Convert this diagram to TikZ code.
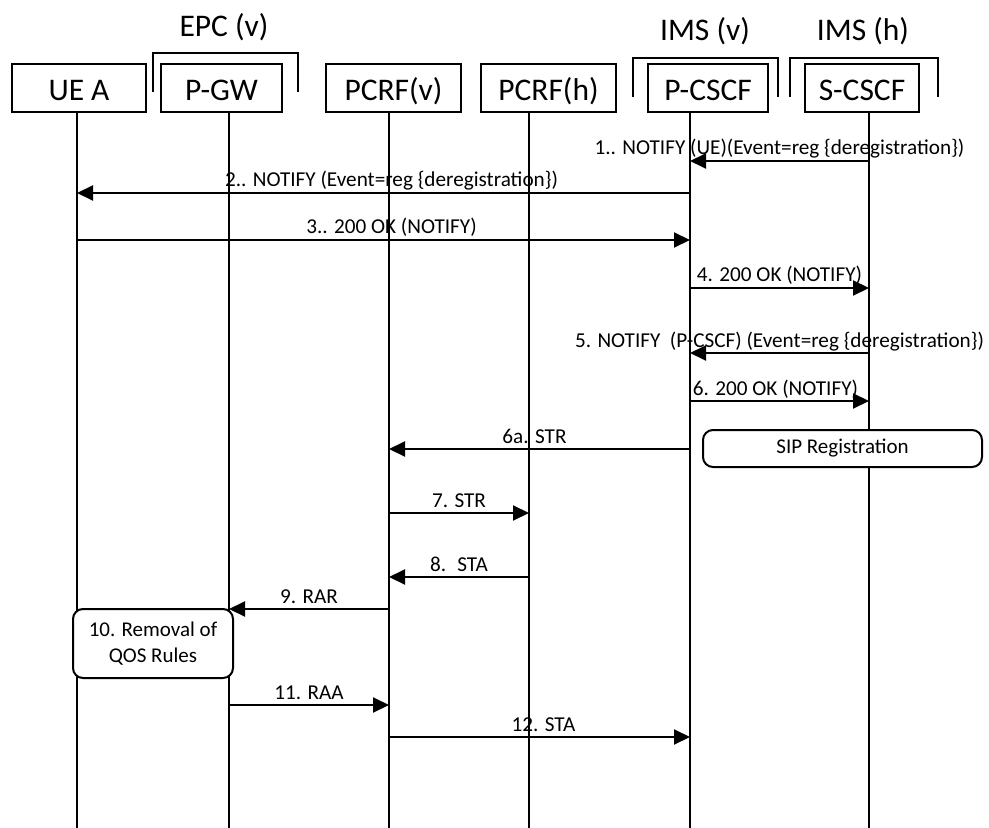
\documentclass[tikz,border=0pt]{standalone}
\usepackage{fontspec}
\setmainfont{Carlito}
\usetikzlibrary{arrows.meta}
\definecolor{ink}{HTML}{000000}

\begin{document}
\begin{tikzpicture}[x=.5pt,y=-.5pt,text=ink,line width=1pt,>={Triangle[length=8pt,width=7.5pt]},
  box/.style={draw=ink,minimum height=24pt,inner sep=0pt,text height=13pt,text depth=0pt,font=\fontsize{15.75}{18}\selectfont},
  hdr/.style={anchor=base,font=\fontsize{15.75}{18}\selectfont},
  msg/.style={draw=ink,->},
  lbl/.style={anchor=base,yshift=3pt,inner sep=0pt,font=\fontsize{10.6}{12}\selectfont},
  note/.style={draw=ink,fill=white,rounded corners=5pt,align=center,inner sep=0pt,font=\fontsize{10.5}{13}\selectfont}]
  \useasboundingbox (0,0) rectangle (989,828);
  % groups
  \node[hdr] (epc) at (224,37) {EPC (v)};
  \node[hdr] (imsv) at (705,41) {IMS (v)};
  \node[hdr] (imsh) at (863,41) {IMS (h)};
  \draw (153,92) |- (298,53) -- (298,92);
  \draw (633,97) |- (778,58) -- (778,97);
  \draw (790,97) |- (938,58) -- (938,97);
  % entities
  \node[box,minimum width=67pt] (ue) at (79,88) {UE A};
  \node[box,minimum width=60.5pt] (pgw) at (221.5,88) {P-GW};
  \node[box,minimum width=67.5pt] (pcrfv) at (393.5,88) {PCRF(v)};
  \node[box,minimum width=67.5pt] (pcrfh) at (548.5,88) {PCRF(h)};
  \node[box,minimum width=60pt] (pcscf) at (708,88) {P-CSCF};
  \node[box,minimum width=57pt] (scscf) at (862,88) {S-CSCF};
  % lifelines
  \coordinate (ueL) at (77,828); \coordinate (pgwL) at (229,828);
  \coordinate (pcrfvL) at (389,828); \coordinate (pcrfhL) at (529,828);
  \coordinate (pcscfL) at (690,828); \coordinate (scscfL) at (869,828);
  \draw (ue.south -| ueL) -- (ueL);
  \draw (pgw.south -| pgwL) -- (pgwL);
  \draw (pcrfv.south -| pcrfvL) -- (pcrfvL);
  \draw (pcrfh.south -| pcrfhL) -- (pcrfhL);
  \draw (pcscf.south -| pcscfL) -- (pcscfL);
  \draw (scscf.south -| scscfL) -- (scscfL);
  % messages
  \draw[msg] (scscfL |- 0,161) -- (pcscfL |- 0,161)
    node[lbl,midway] (m1) {1.. NOTIFY (UE)(Event=reg \{deregistration\})};
  \draw[msg] (pcscfL |- 0,193) -- (ueL |- 0,193)
    node[lbl,midway,xshift=4pt] (m2) {2.. NOTIFY (Event=reg \{deregistration\})};
  \draw[msg] (ueL |- 0,240) -- (pcscfL |- 0,240)
    node[lbl,midway,xshift=4pt] (m3) {3.. 200 OK (NOTIFY)};
  \draw[msg] (pcscfL |- 0,288) -- (scscfL |- 0,288)
    node[lbl,midway] (m4) {4. 200 OK (NOTIFY)};
  \draw[msg] (scscfL |- 0,353) -- (pcscfL |- 0,353)
    node[lbl,midway] (m5) {5. NOTIFY \ (P-CSCF) (Event=reg \{deregistration\})};
  \draw[msg] (pcscfL |- 0,401) -- (scscfL |- 0,401)
    node[lbl,midway,xshift=-2pt] (m6) {6. 200 OK (NOTIFY)};
  \draw[msg] (pcscfL |- 0,449) -- (pcrfvL |- 0,449)
    node[lbl,midway,xshift=-2.5pt] (m6a) {6a. STR};
  \node[note,minimum width=139.5pt,minimum height=18.5pt] (sipreg) at (842.5,448.5) {SIP Registration};
  \draw[msg] (pcrfvL |- 0,513) -- (pcrfhL |- 0,513)
    node[lbl,midway] (m7) {7. STR};
  \draw[msg] (pcrfhL |- 0,577) -- (pcrfvL |- 0,577)
    node[lbl,midway] (m8) {8. \ STA};
  \draw[msg] (pcrfvL |- 0,609) -- (pgwL |- 0,609)
    node[lbl,midway] (m9) {9. RAR};
  \node[note,minimum width=80pt,minimum height=34.5pt] (qos) at (153,643.5) {10. Removal of\\QOS Rules};
  \draw[msg] (pgwL |- 0,705) -- (pcrfvL |- 0,705)
    node[lbl,midway] (m11) {11. RAA};
  \draw[msg] (pcrfvL |- 0,737) -- (pcscfL |- 0,737)
    node[lbl,midway,xshift=2pt] (m12) {12. STA};
\end{tikzpicture}
\end{document}
